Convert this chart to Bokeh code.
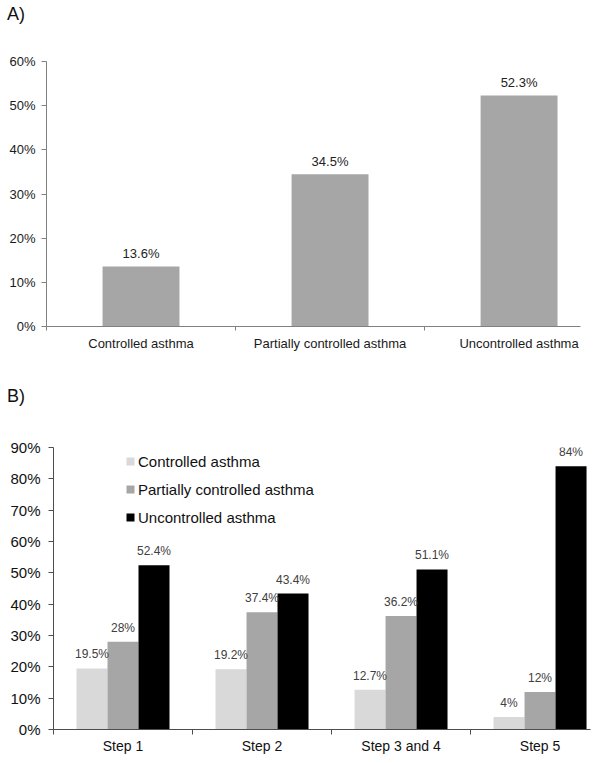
from bokeh.plotting import figure
from bokeh.models import (Range1d, FixedTicker, LabelSet, ColumnDataSource,
                          Legend, LegendItem, PrintfTickFormatter, Div)
from bokeh.core.properties import value
from bokeh.embed import file_html
from bokeh.resources import INLINE

FONT = "Liberation Sans"

# ---------------- data ----------------
a_categories = ["Controlled asthma", "Partially controlled asthma", "Uncontrolled asthma"]
a_values = [13.6, 34.5, 52.3]
a_yticks = [0, 10, 20, 30, 40, 50, 60]

b_steps = ["Step 1", "Step 2", "Step 3 and 4", "Step 5"]
b_controlled = [19.5, 19.2, 12.7, 4]
b_partial = [28, 37.4, 36.2, 12]
b_uncontrolled = [52.4, 43.4, 51.1, 84]
b_yticks = [0, 10, 20, 30, 40, 50, 60, 70, 80, 90]
series_names = ["Controlled asthma", "Partially controlled asthma", "Uncontrolled asthma"]
series_colors = ["#d9d9d9", "#a6a6a6", "#000000"]


def pct(v):
    return f"{v:g}%"


W = 600


def panel_label(text, pad_top, height):
    html = (f'<div style="padding:{pad_top}px 0 0 7px;font-family:\'{FONT}\';'
            f'font-size:18px;line-height:1.15;color:#111111;margin:0">{text}</div>')
    return Div(text=html, width=W, height=height, margin=0)


# ---------------- panel A ----------------
HEAD_A = 26
div_a = panel_label("A)", 4, HEAD_A)
A_H = 370 - HEAD_A
A_TOP, A_BOT = 61 - HEAD_A, 44
pa = figure(width=W, height=A_H, output_backend="svg", toolbar_location=None,
            x_range=Range1d(0, 2.825), y_range=Range1d(0, 60),
            min_border_left=46, min_border_right=20,
            min_border_top=A_TOP, min_border_bottom=A_BOT)
pa.outline_line_color = None
pa.grid.visible = False

a_x = [i + 0.5 for i in range(len(a_categories))]
src_a = ColumnDataSource(dict(x=a_x, top=a_values, label=[pct(v) for v in a_values]))
pa.vbar(x="x", top="top", width=0.407, source=src_a, fill_color="#a6a6a6", line_color=None)
pa.add_layout(LabelSet(x="x", y="top", text="label", source=src_a, text_align="center",
                       text_baseline="middle", y_offset=13, text_font=value(FONT),
                       text_font_size="13px", text_color="#222222"))

pa.xaxis.ticker = FixedTicker(ticks=a_x, minor_ticks=[float(i) for i in range(len(a_categories) + 1)])
pa.xaxis.major_label_overrides = {x: c for x, c in zip(a_x, a_categories)}
pa.xaxis.major_tick_line_color = None
pa.xaxis.major_tick_out = 0
pa.xaxis.major_tick_in = 0
pa.xaxis.minor_tick_line_color = "#808080"
pa.xaxis.minor_tick_out = 4
pa.xaxis.minor_tick_in = 0
pa.xaxis.axis_line_color = "#808080"
pa.xaxis.major_label_standoff = 5
pa.xaxis.major_label_text_font = FONT
pa.xaxis.major_label_text_font_size = "13px"
pa.xaxis.major_label_text_color = "#1a1a1a"

pa.yaxis.ticker = FixedTicker(ticks=a_yticks, minor_ticks=[])
pa.yaxis.formatter = PrintfTickFormatter(format="%d%%")
pa.yaxis.major_tick_out = 5
pa.yaxis.major_tick_in = 0
pa.yaxis.major_tick_line_color = "#808080"
pa.yaxis.axis_line_color = "#808080"
pa.yaxis.major_label_standoff = 6
pa.yaxis.major_label_text_font = FONT
pa.yaxis.major_label_text_font_size = "13px"
pa.yaxis.major_label_text_color = "#1a1a1a"

# ---------------- panel B ----------------
HEAD_B = 40
div_b = panel_label("B)", 16, HEAD_B)
B_H = 393 - HEAD_B
B_TOP, B_BOT = 77 - HEAD_B, 34
pb = figure(width=W, height=B_H, output_backend="svg", toolbar_location=None,
            x_range=Range1d(0, 3.863), y_range=Range1d(0, 90),
            min_border_left=53, min_border_right=10,
            min_border_top=B_TOP, min_border_bottom=B_BOT)
pb.outline_line_color = None
pb.grid.visible = False

offsets = [-0.223, 0.0, 0.223]
renderers = []
for k, (name, vals, col) in enumerate(zip(series_names,
                                          [b_controlled, b_partial, b_uncontrolled],
                                          series_colors)):
    xs = [i + 0.5 + offsets[k] for i in range(len(b_steps))]
    src = ColumnDataSource(dict(x=xs, top=vals, label=[pct(v) for v in vals]))
    r = pb.vbar(x="x", top="top", width=0.223, source=src, fill_color=col, line_color=None)
    renderers.append(r)
    pb.add_layout(LabelSet(x="x", y="top", text="label", source=src, text_align="center",
                           text_baseline="middle", y_offset=14, text_font=value(FONT),
                           text_font_size="12px", text_color="#404040"))

legend = Legend(items=[LegendItem(label=n, renderers=[r]) for n, r in zip(series_names, renderers)],
                location=(72, 202), glyph_width=10, glyph_height=10, label_height=20,
                label_standoff=3, spacing=8, padding=0, margin=0,
                border_line_color=None, background_fill_alpha=0,
                label_text_font=FONT, label_text_font_size="15px", label_text_color="#111111")
pb.add_layout(legend)

b_x = [i + 0.5 for i in range(len(b_steps))]
pb.xaxis.ticker = FixedTicker(ticks=b_x, minor_ticks=[float(i) for i in range(len(b_steps) + 1)])
pb.xaxis.major_label_overrides = {x: s for x, s in zip(b_x, b_steps)}
pb.xaxis.major_tick_line_color = None
pb.xaxis.major_tick_out = 0
pb.xaxis.major_tick_in = 0
pb.xaxis.minor_tick_line_color = "#4d4d4d"
pb.xaxis.minor_tick_out = 5
pb.xaxis.minor_tick_in = 0
pb.xaxis.axis_line_color = "#4d4d4d"
pb.xaxis.major_label_standoff = 3
pb.xaxis.major_label_text_font = FONT
pb.xaxis.major_label_text_font_size = "14px"
pb.xaxis.major_label_text_color = "#111111"

pb.yaxis.ticker = FixedTicker(ticks=b_yticks, minor_ticks=[])
pb.yaxis.formatter = PrintfTickFormatter(format="%d%%")
pb.yaxis.major_tick_out = 5
pb.yaxis.major_tick_in = 0
pb.yaxis.major_tick_line_color = "#4d4d4d"
pb.yaxis.axis_line_color = "#4d4d4d"
pb.yaxis.major_label_standoff = 8
pb.yaxis.major_label_text_font = FONT
pb.yaxis.major_label_text_font_size = "15px"
pb.yaxis.major_label_text_color = "#111111"

open("out.html", "w").write(file_html([div_a, pa, div_b, pb], INLINE))
